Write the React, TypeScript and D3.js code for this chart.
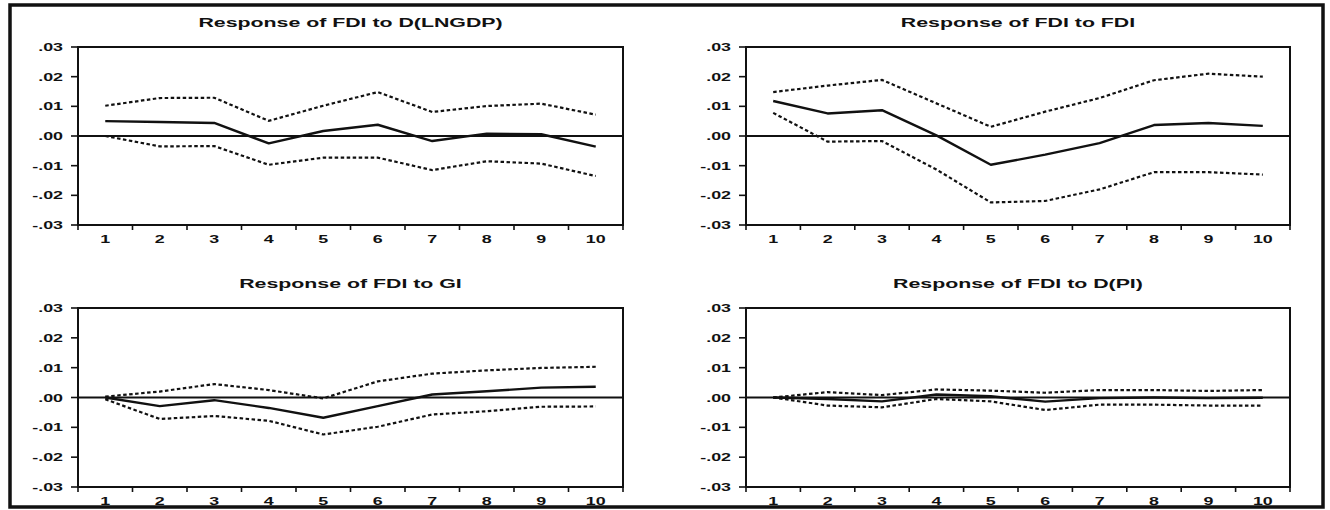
import React from "react";
import * as d3 from "d3";

const periods = [1, 2, 3, 4, 5, 6, 7, 8, 9, 10];
const yTickValues = [0.03, 0.02, 0.01, 0, -0.01, -0.02, -0.03];
const yTickLabels = [".03", ".02", ".01", ".00", "-.01", "-.02", "-.03"];

const titles = [
  "Response of FDI to D(LNGDP)",
  "Response of FDI to FDI",
  "Response of FDI to GI",
  "Response of FDI to D(PI)",
];

const lngdpResp = [0.005, 0.0047, 0.0044, -0.0025, 0.0017, 0.0038, -0.0017, 0.0008, 0.0006, -0.0036];
const lngdpUpper = [0.0102, 0.0128, 0.0129, 0.0051, 0.0102, 0.0148, 0.0081, 0.0101, 0.0109, 0.0072];
const lngdpLower = [0.0, -0.0035, -0.0034, -0.0097, -0.0073, -0.0073, -0.0115, -0.0085, -0.0093, -0.0135];

const fdiResp = [0.0118, 0.0076, 0.0087, 0.0002, -0.0097, -0.0063, -0.0024, 0.0037, 0.0044, 0.0034];
const fdiUpper = [0.0148, 0.017, 0.0189, 0.011, 0.0031, 0.0082, 0.0128, 0.0188, 0.021, 0.02];
const fdiLower = [0.0078, -0.0019, -0.0017, -0.0113, -0.0224, -0.0219, -0.018, -0.0122, -0.0122, -0.013];

const giResp = [0, -0.0029, -0.0009, -0.0035, -0.0068, -0.0029, 0.001, 0.0021, 0.0033, 0.0036];
const giUpper = [0.0003, 0.002, 0.0045, 0.0025, -0.0003, 0.0054, 0.008, 0.0091, 0.0099, 0.0103];
const giLower = [-0.0006, -0.0072, -0.0062, -0.0078, -0.0124, -0.0098, -0.0057, -0.0046, -0.0031, -0.003];

const piResp = [0, -0.0005, -0.0013, 0.001, 0.0004, -0.0014, -0.0002, 0, -0.0002, -0.0001];
const piUpper = [0, 0.0018, 0.0008, 0.0027, 0.0023, 0.0016, 0.0025, 0.0025, 0.0022, 0.0025];
const piLower = [0, -0.0027, -0.0033, -0.0005, -0.0013, -0.0042, -0.0024, -0.0024, -0.0027, -0.0027];

const panelSeries = [
  [lngdpResp, lngdpUpper, lngdpLower],
  [fdiResp, fdiUpper, fdiLower],
  [giResp, giUpper, giLower],
  [piResp, piUpper, piLower],
];

const panelBoxes = [
  { x0: 78, x1: 623, y0: 47, y1: 225 },
  { x0: 746, x1: 1290, y0: 47, y1: 225 },
  { x0: 78, x1: 623, y0: 308, y1: 487 },
  { x0: 746, x1: 1290, y0: 308, y1: 487 },
];

const FONT = "'Liberation Sans', Arial, sans-serif";

function Panel({ box, title, series }) {
  const { x0, x1, y0, y1 } = box;
  const xBand = d3.scaleBand().domain(periods.map(String)).range([x0, x1]).padding(0);
  const xPt = d3.scalePoint().domain(periods.map(String)).range([x0, x1]).padding(0.5);
  const y = d3.scaleLinear().domain([-0.03, 0.03]).range([y1, y0]);
  const line = d3
    .line<number>()
    .x((_, i) => xPt(String(periods[i])) as number)
    .y((d) => y(d));

  const tickXs = periods.map((p) => xBand(String(p)) as number).concat([x1]);
  const cx = (x0 + x1) / 2;

  return (
    <g>
      <g transform={`translate(${cx},${y0 - 20}) scale(1.58,1)`}>
        <text x={0} y={0} textAnchor="middle" fontFamily={FONT} fontWeight="bold" fontSize={13.5} fill="#111">
          {title}
        </text>
      </g>
      {yTickValues.map((v, i) => (
        <g key={"y" + i}>
          <line x1={x0 - 7} x2={x0} y1={y(v)} y2={y(v)} stroke="#111" strokeWidth={1.6} />
          <g transform={`translate(${x0 - 15},${y(v) + 4}) scale(1.7,1)`}>
            <text x={0} y={0} textAnchor="end" fontFamily={FONT} fontWeight="bold" fontSize={10.5} fill="#111">
              {yTickLabels[i]}
            </text>
          </g>
        </g>
      ))}
      {tickXs.map((tx, i) => (
        <line key={"xt" + i} x1={tx} x2={tx} y1={y1} y2={y1 + 5} stroke="#111" strokeWidth={1.6} />
      ))}
      {periods.map((p) => (
        <g key={"xl" + p} transform={`translate(${xPt(String(p))},${y1 + 18}) scale(1.7,1)`}>
          <text x={0} y={0} textAnchor="middle" fontFamily={FONT} fontWeight="bold" fontSize={10.5} fill="#111">
            {String(p)}
          </text>
        </g>
      ))}
      <line x1={x0} x2={x1} y1={y(0)} y2={y(0)} stroke="#111" strokeWidth={1.8} />
      <path d={line(series[1]) || ""} fill="none" stroke="#111" strokeWidth={2.2} strokeDasharray="3.5,2.5" />
      <path d={line(series[2]) || ""} fill="none" stroke="#111" strokeWidth={2.2} strokeDasharray="3.5,2.5" />
      <path d={line(series[0]) || ""} fill="none" stroke="#111" strokeWidth={2.4} strokeLinejoin="round" />
      <rect x={x0} y={y0} width={x1 - x0} height={y1 - y0} fill="none" stroke="#111" strokeWidth={2} />
    </g>
  );
}

export default function App() {
  return (
    <svg
      width={1330}
      height={510}
      style={{ position: "absolute", left: 0, top: 0, background: "#fff" }}
    >
      <rect x={0} y={0} width={1330} height={510} fill="#fff" />
      <rect x={10} y={5} width={1313} height={502} fill="none" stroke="#111" strokeWidth={3.5} />
      {panelBoxes.map((b, i) => (
        <Panel key={i} box={b} title={titles[i]} series={panelSeries[i]} />
      ))}
    </svg>
  );
}
